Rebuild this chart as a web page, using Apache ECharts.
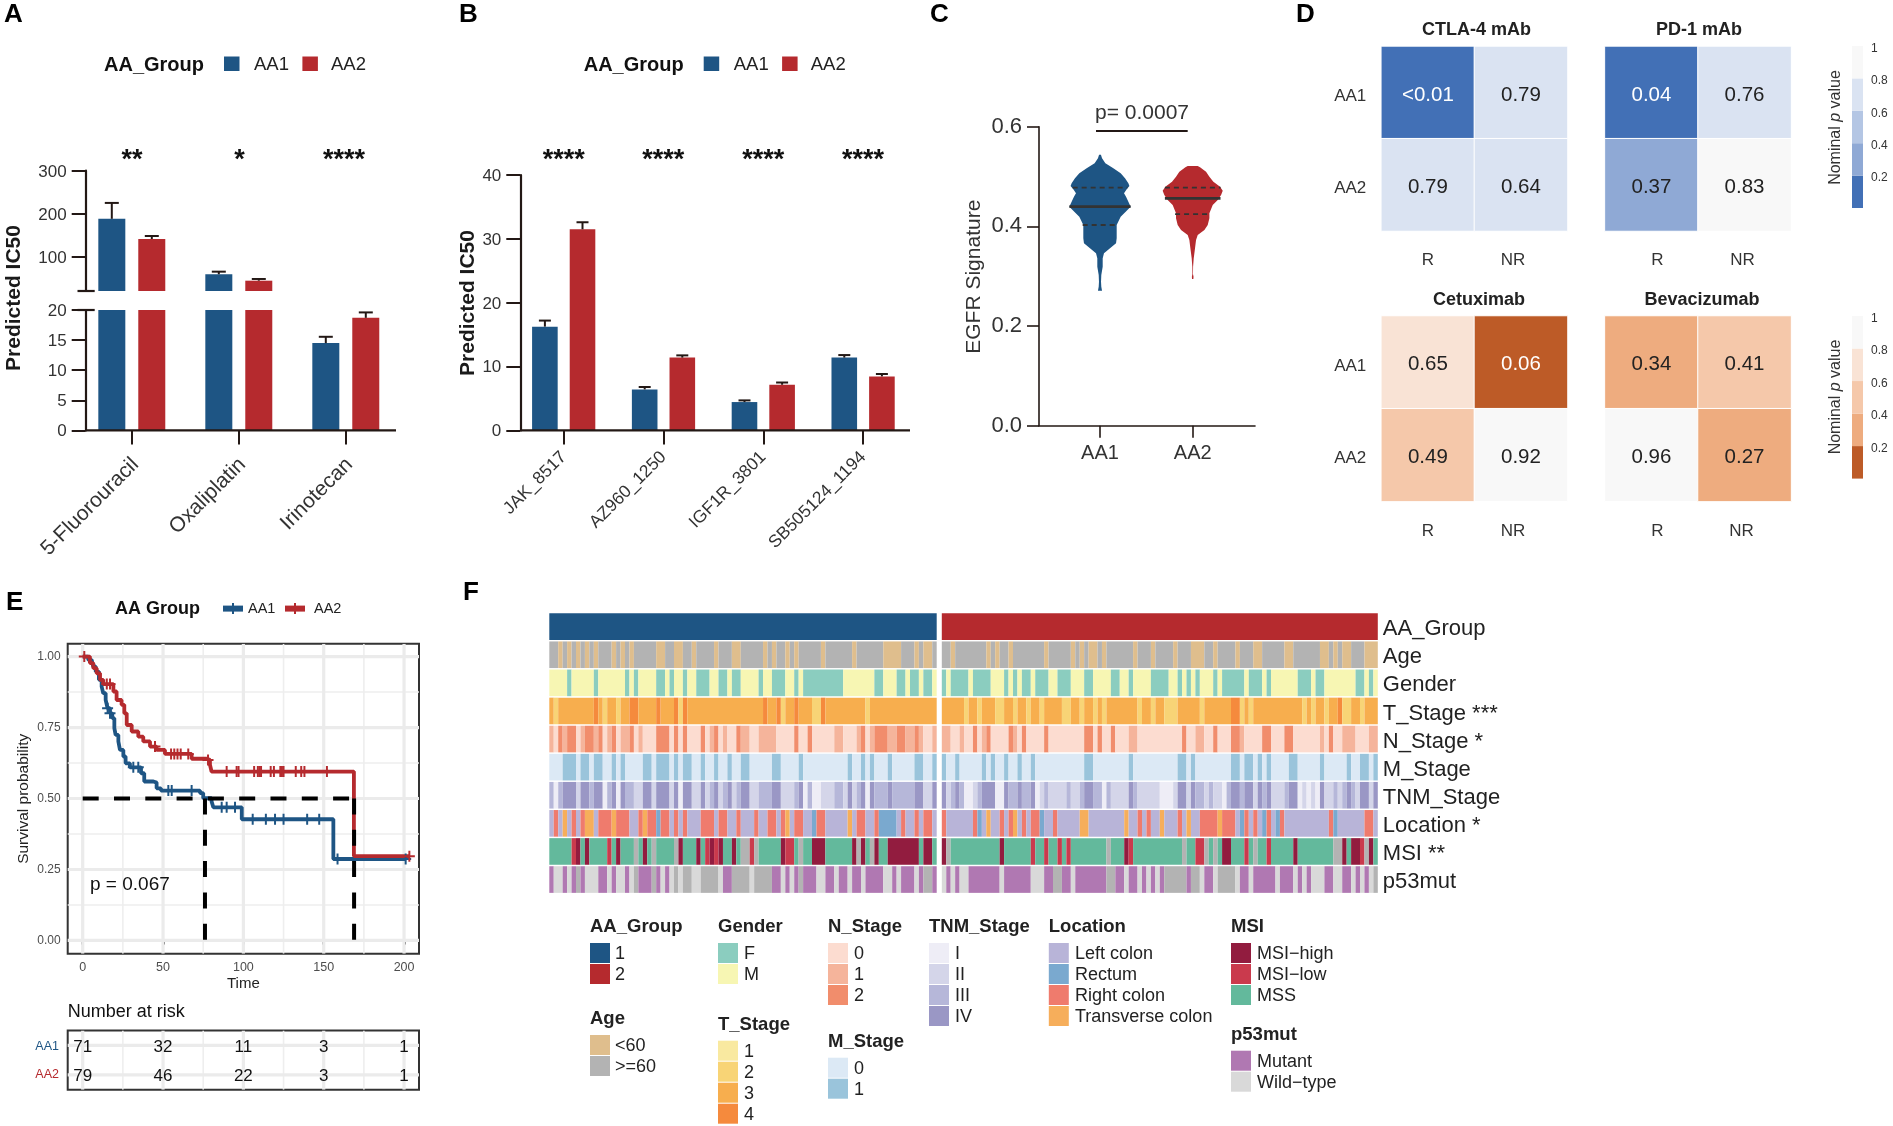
<!DOCTYPE html>
<html><head><meta charset="utf-8">
<style>html,body{margin:0;padding:0;background:#fff}#c{width:1893px;height:1126px}</style>
<script src="https://cdn.jsdelivr.net/npm/echarts@6/dist/echarts.min.js"></script>
</head><body><div id="c"></div>
<script>
// ---------- data ----------
const groupNames = ['AA1', 'AA2'];
const drugsA = ['5-Fluorouracil', 'Oxaliplatin', 'Irinotecan'];
const ic50A_AA1 = [188, 59, 14.5];
const ic50A_AA2 = [141, 44, 18.7];
const errA_AA1 = [225, 65, 15.55];
const errA_AA2 = [148, 48, 19.6];
const sigA = ['**', '*', '****'];

const drugsB = ['JAK_8517', 'AZ960_1250', 'IGF1R_3801', 'SB505124_1194'];
const ic50B_AA1 = [16.25, 6.42, 4.44, 11.4];
const ic50B_AA2 = [31.5, 11.4, 7.15, 8.46];
const errB_AA1 = [17.2, 6.8, 4.7, 11.8];
const errB_AA2 = [32.6, 11.75, 7.5, 8.83];
const sigB = ['****', '****', '****', '****'];

const violinY_AA1 = [.5439,.5366,.5265,.5165,.5065,.4964,.4864,.481,.4743,.4663,.4596,.4496,.4396,.4315,.4195,.4028,.3894,.376,.366,.356,.3459,.3359,.3191,.3024,.289,.279,.271];
const violinW_AA1 = [.01,.022,.058,.144,.223,.27,.306,.317,.288,.259,.281,.306,.331,.288,.223,.18,.18,.18,.173,.108,.043,.029,.029,.014,.011,.014,.022];
const violinY_AA2 = [.5212,.5185,.5098,.4998,.4897,.4797,.4716,.463,.4529,.4429,.4262,.4162,.4028,.3927,.3827,.3727,.356,.3359,.3191,.3044,.2991,.2944];
const violinW_AA2 = [.054,.079,.144,.18,.223,.295,.324,.306,.27,.216,.18,.18,.162,.126,.054,.036,.025,.011,.004,.003,.009,.007];
const quartiles_AA1 = [[.4776,.295],[.4396,.33],[.4027,.187]];
const quartiles_AA2 = [[.4776,.3],[.456,.3],[.4247,.19]];
const bracketC = [[.957,.5914],[1.946,.5914]];

const respCats = ['R', 'NR'];
const pCtla = [[.005,.79],[.79,.64]];
const pPd1 = [[.04,.76],[.37,.83]];
const pCetux = [[.65,.06],[.49,.92]];
const pBeva = [[.34,.41],[.96,.27]];
const blueSteps = ['#4270b6','#8fa9d5','#b4c6e4','#dae3f2','#f8f8f8'];
const orangeSteps = ['#bd5b27','#eeac7f','#f5c8aa','#f9e3d5','#f8f8f8'];

const kmAA1 = [[0,1],[3.5,.988],[5.6,.982],[6.6,.965],[8.1,.947],[10.1,.918],[11.8,.894],[12.8,.871],[14.3,.847],[15.5,.818],[17,.8],[18.4,.783],[19.7,.748],[20.5,.724],[22.2,.701],[23.2,.671],[25.3,.648],[26.7,.624],[29.4,.61],[36.3,.589],[38.3,.56],[44,.556],[46,.536],[48.7,.528],[73,.519],[75,.501],[80.2,.49],[81.3,.469],[99,.427],[156,.287],[201,.287]];
const kmAA2 = [[0,1],[4.5,.977],[6.6,.959],[8.7,.941],[10.8,.918],[12.8,.903],[19.1,.877],[21.1,.847],[24.2,.83],[25.9,.8],[27.4,.759],[30.5,.736],[34.6,.718],[37.7,.701],[41.9,.683],[46,.671],[51.2,.657],[67.8,.64],[77.1,.636],[79.2,.619],[80.2,.595],[168.8,.297],[203.3,.297]];
const censorAA1 = [[15.5,.818],[17,.8],[31.5,.61],[34.6,.61],[53.3,.528],[55.4,.528],[67.8,.528],[86.5,.469],[89.6,.469],[94.8,.469],[105.8,.427],[114,.427],[119.7,.427],[125,.427],[139.7,.427],[147.2,.427],[158.6,.287],[201,.287]];
const censorAA2 = [[1,1],[15,.903],[17,.903],[45,.683],[55,.657],[57,.657],[59,.657],[61,.657],[65.7,.657],[78,.636],[89.6,.595],[95.8,.595],[97,.595],[106.7,.595],[109,.595],[110,.595],[111,.595],[117,.595],[119,.595],[123,.595],[124,.595],[125,.595],[132.6,.595],[136,.595],[138,.595],[152,.595],[203.3,.297]];
const medianLines = [[[0,.5],[168.9,.5]],[[76.1,.5],[76.1,0]],[[168.9,.5],[168.9,0]]];
const timeTicks = [0,50,100,150,200];
const timeMinor = [25,75,125,175];
const survTicks = [0,.25,.5,.75,1];
const survMinor = [.125,.375,.625,.875];
const riskAA1 = [71,32,11,3,1];
const riskAA2 = [79,46,22,3,1];

const N1 = 87, N2 = 98;
function mark(n, base, m){const a=new Array(n).fill(base);for(const k in m)m[k].forEach(i=>a[i]=+k);return a;}
function seq(n, s){const a=s.replace(/\s/g,'').split('').map(Number).slice(0,n);while(a.length<n)a.push(a[a.length-1]);return a;}
const rowNames = ['AA_Group','Age','Gender','T_Stage ***','N_Stage *','M_Stage','TNM_Stage','Location *','MSI **','p53mut'];
const ageAA1 = mark(N1,1,{0:[2,4,6,8,10,14,16,18,24,25,28,29,32,37,41,42,48,50,53,55,61,68,75,76,77,78,82,84,85]});
const ageAA2 = mark(N2,1,{0:[2,10,12,15,23,29,31,33,34,36,43,47,52,56,57,58,61,66,70,71,77,78,85,86,88,90,91,95,96,97]});
const genderAA1 = mark(N1,1,{0:[4,10,17,19,24,25,27,30,33,34,35,38,39,41,42,47,50,51,52,55,57,58,59,60,61,62,63,64,65,73,74,78,79,81,82,84,85]});
const genderAA2 = mark(N2,1,{0:[0,2,3,4,5,7,8,9,10,14,16,18,19,21,22,23,26,27,28,32,33,38,39,42,47,48,49,50,53,55,57,61,63,64,65,66,67,69,70,71,73,80,81,82,84,85,93,94,96]});
const tAA1 = mark(N1,2,{1:[1,12,15,29,52,59,60,71],3:[10,18,19,24,28,30,48,51,55,61]});
const tAA2 = mark(N2,2,{1:[5,8,12,13,16,19,22,27,28,31,34,36,44,47,50,51,52,58,67,69,81,83,86,90,91,94],3:[65,66,89]});
const nAA1 = seq(N1,'1 0 2 1 22 0 1 22 1 2 0 1 2 0 11 2 0 1 000 222 0 2 0 2 000 2 0 1 2 0 1 00 2 11 00 1111 0000 2 00 2 00000 11 000 1 2 0 1 222 11 22 11 2 1 00 1');
const nAA2 = mark(N2,0,{1:[0,1,4,9,16,42,43,57,58,67,85,90,91,92,96,97],2:[7,10,15,18,23,32,33,35,38,54,61,65,66,72,73,77,78,87]});
const mAA1 = mark(N1,0,{1:[3,4,5,7,8,10,11,14,16,21,22,24,25,26,28,30,31,34,37,40,43,44,50,51,56,67,70,72,76,82,83,86]});
const mAA2 = mark(N2,0,{1:[0,3,9,11,14,17,20,32,33,42,53,54,56,65,66,68,69,71,73,78,79,85,91,94,95,97]});
const tnmAA1 = seq(N1,'3 1 3 444 2 44 3 44 1 3 4 1 4 33 22 44 2 444 2 4 1 44 22 4 2 3 4 2 3 4 2 3 44 22 333 44 2 22 3 4 1 3 11 222 33 2 4 23 4 1 4 333 4 33333 44 22 4').map(v=>v-1);
const tnmAA2 = seq(N2,'4234311234 4411433433 4123222232 2344331322 2243222221 1124424332 3221344344 2434222344 1212142232 34324424').map(v=>v-1);
const locAA1 = seq(N1,'1 3 1 4 1 3 1 3 44 1 333 4 333 11 3 4 33 2 33 1 3 1 3 111 333 1 33 11 3 111 3 11 33 1 3 4 1 33 11 2 33 11111 4 1 33 11 3 2222 1 3 11 3 1 33 1').map(v=>v-1);
const locAA2 = mark(N2,0,{1:[8,22,67,72,75,88],2:[0,7,13,15,18,20,21,25,44,46,53,58,59,60,61,63,64,65,68,70,73,76,87,95,96],3:[10,16,31,32,41,49,55,62]});
const msiAA1 = seq(N1,'33333 2 1 3 1 3333 2 3 1 333 0 3 1 3 0 3333 0 1 333 1 3 2 1 2 1 33 1 3 00 2 0 33333 1 22 3 0 33 111 333333 1 0 1 3 0 1 33 1111111 3 11 3');
const msiAA2 = mark(N2,3,{1:[0,13,41,63,64,79,90,92,93,96],2:[20,23,26,28,42,57,58,68,73,94],0:[1,37,54,59,61,70,88,89,95]});
const p53AA1 = seq(N1,'1 22 1 2 1 0 1 222 11 2 1 22 1 2 0 111 0 1 2 1 2 0 2 00 22 0000 2 11 0000 2 0000 11 2 1 2 1 0 111 22 11 2 11 2 11 2 1111 22 1 2 111 2 1 00 1');
const p53AA2 = seq(N2,'2 1 2 1 22 1111111 2 111111 222 11 00 11 2 1111111 00 11 2 11 2 1 2 1 2 1 00000 1 00 2 11 2 0000 2 11 2 11111 2 111 2 1 2 1 222 11 22 11 2 1 2 1 2 0');
const groupAA1 = new Array(N1).fill(0), groupAA2 = new Array(N2).fill(1);

const colGroup = ['#1e5584','#b52a2e'];
const colAge = ['#dfbe8d','#b3b3b3'];
const colGender = ['#8bcdbf','#f7f6b3'];
const colT = ['#f9e9a0','#f8d476','#f7ae4e','#f58a3d'];
const colN = ['#fcdcd0','#f5b49b','#f18d6c'];
const colM = ['#dce9f5','#9ac4db'];
const colTnm = ['#eeedf6','#d4d5e9','#b6b7d9','#9a97c5'];
const colLoc = ['#b8b4d8','#7aa9cf','#ef7b6d','#f6ae5b'];
const colMsi = ['#b3b3b3','#921c3f','#ca3a4d','#63b99c'];
const colP53 = ['#b3b3b3','#b078b2','#d9d9d9'];
const rowColors = [colGroup,colAge,colGender,colT,colN,colM,colTnm,colLoc,colMsi,colP53];

// ---------- helpers ----------
const FF = '"Liberation Sans",Arial,sans-serif';
const INK = '#231815', TXT = '#222';
const BLUE = colGroup[0], RED = colGroup[1];
const grid=[],xAxis=[],yAxis=[],series=[],graphic=[],visualMap=[];
function T(x,y,text,o={}){
  const size=o.size||16, weight=o.weight||'normal';
  const s={text,x:0,y:0,fontFamily:FF,fontSize:size,fontWeight:weight,fill:o.color||TXT,
    align:o.align||'left',verticalAlign:'middle',textAlign:o.align||'left',textVerticalAlign:'middle'};
  if(o.rich)s.rich=o.rich;
  graphic.push({type:'text',x,y,rotation:o.rot||0,silent:true,z:20,style:s});
}
function L(x1,y1,x2,y2,w,color){graphic.push({type:'line',silent:true,z:19,shape:{x1,y1,x2,y2},style:{stroke:color||INK,lineWidth:w||2}});}
function R(x,y,w,h,fill){graphic.push({type:'rect',silent:true,z:19,shape:{x,y,width:w,height:h},style:{fill}});}
function addGrid(left,top,width,height,extra){grid.push(Object.assign({left,top,width,height,containLabel:false},extra||{}));return grid.length-1;}
function panelLetter(x,y,t){T(x,y,t,{size:26,weight:'bold',color:'#000'});}
// axis label text pushed down by half of pad through a rich-text style
function padded(size,color,pad,fmt,left){
  return {formatter:v=>{const t=fmt?fmt(v):v;return t===''?'':`{s|${t}}`;},
    rich:{s:{fontSize:size,color,fontFamily:FF,padding:[pad,0,0,left||0]}}};
}
function groupLegend(dx){
  T(104+dx,65,'AA_Group',{size:20,weight:'bold',color:'#111'});
  R(224+dx,56.5,15.5,14.5,BLUE);T(254+dx,65,'AA1',{size:18.5});
  R(302.4+dx,56.5,15.5,14.5,RED);T(331+dx,65,'AA2',{size:18.5});
}
function errSeries(g,vals,tops,lo,hi,off,cap){
  const data=vals.map((v,i)=>[i,v,tops[i]]).filter(d=>d[1]>=lo&&d[1]<=hi);
  series.push({type:'custom',xAxisIndex:g,yAxisIndex:g,encode:{x:0,y:[1,2]},data,silent:true,z:3,
    renderItem(p,api){
      const a=api.coord([api.value(0),api.value(1)]),b=api.coord([api.value(0),api.value(2)]);
      const x=a[0]+off,st={stroke:INK,lineWidth:2};
      return {type:'group',children:[
        {type:'line',shape:{x1:x,y1:a[1],x2:x,y2:b[1]},style:st},
        {type:'line',shape:{x1:x-cap/2,y1:b[1],x2:x+cap/2,y2:b[1]},style:st}]};
    }});
}
function barPanel(left,width,top,height,cats,v1,v2,yOpt,offset,bw,gapPct,showX,labelSize,labelMargin,perp){
  const g=addGrid(left,top,width,height);
  xAxis.push({type:'category',gridIndex:g,data:cats,show:showX,axisLine:{show:false},
    axisTick:{show:showX,alignWithLabel:true,length:14,lineStyle:{color:INK,width:2}},
    axisLabel:Object.assign({show:showX,rotate:45,margin:labelMargin,interval:0},padded(labelSize,'#333',perp||0))});
  yAxis.push(Object.assign({type:'value',gridIndex:g,offset,splitLine:{show:false},
    axisLine:{show:true,onZero:false,lineStyle:{color:INK,width:2.2}},
    axisTick:{show:true,length:14,lineStyle:{color:INK,width:2}}},yOpt));
  series.push({type:'bar',xAxisIndex:g,yAxisIndex:g,data:v1,barWidth:bw,barGap:gapPct,itemStyle:{color:BLUE},silent:true,name:groupNames[0]});
  series.push({type:'bar',xAxisIndex:g,yAxisIndex:g,data:v2,barWidth:bw,barGap:gapPct,itemStyle:{color:RED},silent:true,name:groupNames[1]});
  return g;
}
const yLabel=(m)=>Object.assign({margin:m},padded(17,'#333',2.5));

// ---------- panel A ----------
panelLetter(4,15,'A');groupLegend(0);
const aUp=barPanel(78.3,321,170.7,120.3,drugsA,ic50A_AA1,ic50A_AA2,
  {min:20,max:300,axisLabel:Object.assign(yLabel(19),{customValues:[100,200,300]}),axisTick:{show:true,length:14,customValues:[100,200,300],lineStyle:{color:INK,width:2}}},-7.4,27,'48%',false,21,27.5,10);
errSeries(aUp,ic50A_AA1,errA_AA1,20,1e9,-20,14);errSeries(aUp,ic50A_AA2,errA_AA2,20,1e9,20,14);
const aLo=barPanel(78.3,321,310,120.4,drugsA,ic50A_AA1,ic50A_AA2,
  {min:0,max:20,interval:5,axisLabel:yLabel(19)},-7.4,27,'48%',true,21,27.5,10);
errSeries(aLo,ic50A_AA1,errA_AA1,0,20,-20,14);errSeries(aLo,ic50A_AA2,errA_AA2,0,20,20,14);
L(85.7,430.4,396,430.4,2.2);
L(77.5,291,94.7,291,2.2);L(77.5,310,94.7,310,2.2);
T(14,298,'Predicted IC50',{size:21,weight:'bold',align:'center',rot:Math.PI/2,color:'#1a1a1a'});
[132,239.6,344].forEach((x,i)=>T(x,161,sigA[i],{size:27,weight:'bold',align:'center',color:'#111'}));

// ---------- panel B ----------
panelLetter(459,15,'B');groupLegend(479.7);
const bG=barPanel(513.8,399.2,175,255.4,drugsB,ic50B_AA1,ic50B_AA2,
  {min:0,max:40,interval:10,axisLabel:yLabel(19)},-6.5,25.6,'47%',true,17.5,24,0);
errSeries(bG,ic50B_AA1,errB_AA1,0,40,-18.8,12);errSeries(bG,ic50B_AA2,errB_AA2,0,40,18.8,12);
L(520.3,430.4,910,430.4,2.2);
T(468.5,303,'Predicted IC50',{size:21,weight:'bold',align:'center',rot:Math.PI/2,color:'#1a1a1a'});
[563.7,663.3,763.3,863].forEach((x,i)=>T(x,161,sigB[i],{size:27,weight:'bold',align:'center',color:'#111'}));

// ---------- panel C ----------
panelLetter(930,15,'C');
const cG=addGrid(1039,126.7,216,299);
xAxis.push({type:'value',gridIndex:cG,min:.342,max:2.672,splitLine:{show:false},
  axisLine:{show:true,onZero:false,lineStyle:{color:INK,width:1.6}},
  axisTick:{show:true,length:12,customValues:[1,2],lineStyle:{color:INK,width:1.6}},
  axisLabel:{customValues:[1,2],fontSize:20,color:'#333',margin:18,formatter:v=>groupNames[Math.round(v)-1]}});
yAxis.push({type:'value',gridIndex:cG,min:0,max:.6,interval:.2,splitLine:{show:false},
  axisLine:{show:true,onZero:false,lineStyle:{color:INK,width:1.6}},
  axisTick:{show:true,length:12,lineStyle:{color:INK,width:1.6}},
  axisLabel:{fontSize:22,color:'#333',margin:17,formatter:v=>v.toFixed(1)}});
function violin(center,ys,ws,qs,color){
  series.push({type:'custom',xAxisIndex:cG,yAxisIndex:cG,encode:{x:0,y:1},data:[[center,qs[1][0]]],silent:true,
    renderItem(p,api){
      const left=ys.map((y,i)=>api.coord([center-ws[i],y]));
      const right=ys.map((y,i)=>api.coord([center+ws[i],y])).reverse();
      const kids=[{type:'polygon',shape:{points:left.concat(right)},style:{fill:color}}];
      qs.forEach((q,i)=>{
        const a=api.coord([center-q[1],q[0]]),b=api.coord([center+q[1],q[0]]);
        kids.push({type:'line',shape:{x1:a[0],y1:a[1],x2:b[0],y2:b[1]},
          style:{stroke:'#333',lineWidth:i===1?2.8:1.8,lineDash:i===1?null:[5,4]}});
      });
      return {type:'group',children:kids};
    }});
}
violin(1,violinY_AA1,violinW_AA1,quartiles_AA1,BLUE);
violin(2,violinY_AA2,violinW_AA2,quartiles_AA2,RED);
series.push({type:'line',xAxisIndex:cG,yAxisIndex:cG,data:bracketC,showSymbol:false,silent:true,lineStyle:{color:INK,width:2}});
T(1142,113.5,'p= 0.0007',{size:21,align:'center',color:'#333'});
T(974,276.7,'EGFR Signature',{size:21,align:'center',rot:Math.PI/2,color:'#333'});

// ---------- panel D ----------
panelLetter(1296,15,'D');
function heat(title,titleX,titleY,left,top,w,h,vals,showRows,vmIdx,shift){
  const g=addGrid(left,top,w,h);
  xAxis.push({type:'category',gridIndex:g,data:respCats,axisLine:{show:false},axisTick:{show:false},splitArea:{show:false},
    axisLabel:{margin:21,formatter:v=>`{${v}|${v}}`,rich:{
      R:{fontSize:17,color:'#333',fontFamily:FF,padding:shift[0]>0?[0,0,0,2*shift[0]]:[0,-2*shift[0],0,0]},
      NR:{fontSize:17,color:'#333',fontFamily:FF,padding:shift[1]>0?[0,0,0,2*shift[1]]:[0,-2*shift[1],0,0]}}}});
  yAxis.push({type:'category',gridIndex:g,data:groupNames,inverse:true,axisLine:{show:false},axisTick:{show:false},splitArea:{show:false},
    axisLabel:Object.assign({show:showRows,margin:15},padded(17,'#333',7))});
  const data=[];
  vals.forEach((row,r)=>row.forEach((v,c)=>data.push({value:[c,r,v],label:{color:v<.2?'#fff':'#222'}})));
  series.push({type:'heatmap',xAxisIndex:g,yAxisIndex:g,data,silent:true,
    itemStyle:{borderColor:'#fff',borderWidth:1},
    label:{show:true,fontSize:20.5,fontFamily:FF,offset:[0,2.4],formatter:p=>p.value[2]<.01?'<0.01':p.value[2].toFixed(2)}});
  visualMap[vmIdx].seriesIndex.push(series.length-1);
  T(titleX,titleY,title,{size:18,weight:'bold',align:'center',color:'#222'});
}
function stepPieces(cols){return cols.map((c,i)=>({min:i*.2,max:(i+1)*.2,color:c}));}
visualMap.push({type:'piecewise',show:false,dimension:2,seriesIndex:[],pieces:stepPieces(blueSteps)});
visualMap.push({type:'piecewise',show:false,dimension:2,seriesIndex:[],pieces:stepPieces(orangeSteps)});
heat('CTLA-4 mAb',1476.6,30,1381.3,46.4,186.2,184.6,pCtla,true,0,[0,-8]);
heat('PD-1 mAb',1699,30,1604.9,46.4,186.2,184.6,pPd1,false,0,[6,-2]);
heat('Cetuximab',1479,300,1381.3,316,186.2,185.4,pCetux,true,1,[0,-8]);
heat('Bevacizumab',1702,300,1604.9,316,186.2,185.4,pBeva,false,1,[6,-3]);
function colorbar(top,h,cols,titleY){
  const g=addGrid(1852,top,11,h);
  xAxis.push({type:'value',gridIndex:g,min:0,max:1,show:false});
  yAxis.push({type:'value',gridIndex:g,min:0,max:1,interval:.2,position:'right',splitLine:{show:false},axisLine:{show:false},axisTick:{show:false},
    axisLabel:Object.assign({margin:8},padded(12,'#333',5,v=>v===0?'':(v===1?'1':v.toFixed(1))))});
  series.push({type:'custom',xAxisIndex:g,yAxisIndex:g,encode:{y:1},silent:true,data:cols.map((c,i)=>[0,i*.2,(i+1)*.2]),
    renderItem(p,api){
      const a=api.coord([0,api.value(1)]),b=api.coord([1,api.value(2)]);
      return {type:'rect',shape:{x:a[0],y:b[1],width:b[0]-a[0],height:a[1]-b[1]},style:{fill:cols[p.dataIndex]}};
    }});
  T(1836,titleY,'Nominal {i|p} value',{size:16,align:'center',rot:Math.PI/2,color:'#333',
    rich:{i:{fontStyle:'italic',fontSize:16,fontFamily:FF,fill:'#333',color:'#333'}}});
}
colorbar(46,162,blueSteps,127.5);
colorbar(316,162.6,orangeSteps,397);

// ---------- panel E ----------
panelLetter(6,603,'E');
T(115,609,'AA Group',{size:18,weight:'bold',color:'#111'});
L(223,608.6,243,608.6,6,BLUE);L(233,603,233,614,2,BLUE);T(248,608.6,'AA1',{size:14.5});
L(285,608.6,305,608.6,6,RED);L(295,603,295,614,2,RED);T(314,608.6,'AA2',{size:14.5});
const eX={min:-9.33,max:209.3};
const eG=addGrid(67.7,643.8,351.3,310,{show:true,borderColor:'#333',borderWidth:2,backgroundColor:'transparent'});
xAxis.push(Object.assign({type:'value',gridIndex:eG,splitLine:{show:false},axisLine:{show:false},
  axisTick:{show:true,length:4,customValues:timeTicks,lineStyle:{color:'#111',width:3}},
  axisLabel:{customValues:timeTicks,fontSize:12.5,color:'#4d4d4d',margin:7},
  name:'Time',nameLocation:'middle',nameGap:23,nameTextStyle:{fontSize:15,color:'#222'}},eX));
yAxis.push({type:'value',gridIndex:eG,min:-.047,max:1.045,splitLine:{show:false},axisLine:{show:false},
  axisTick:{show:true,length:4,customValues:survTicks,lineStyle:{color:'#111',width:3}},
  axisLabel:{customValues:survTicks,fontSize:12,color:'#4d4d4d',margin:7,formatter:v=>v.toFixed(2)},
  name:'Survival probability',nameLocation:'middle',nameGap:36,nameTextStyle:{fontSize:15.5,color:'#222'}});
function gridlines(g,xs,ys,wd,color,yr){
  const data=xs.map(v=>[v,0]).concat(ys.map(v=>[v,1]));
  series.push({type:'custom',xAxisIndex:g,yAxisIndex:g,silent:true,z:1,encode:{x:0},clip:true,data,
    renderItem(p,api){
      const v=api.value(0),horiz=api.value(1)===1;
      const a=horiz?api.coord([eX.min,v]):api.coord([v,yr[0]]),b=horiz?api.coord([eX.max,v]):api.coord([v,yr[1]]);
      return {type:'line',shape:{x1:a[0],y1:a[1],x2:b[0],y2:b[1]},style:{stroke:color,lineWidth:wd}};
    }});
}
gridlines(eG,timeMinor,survMinor,1.6,'#eeeeee',[-.047,1.045]);
gridlines(eG,timeTicks,survTicks,3.2,'#ebebeb',[-.047,1.045]);
const plus='path://M4.1,0H5.9V4.1H10V5.9H5.9V10H4.1V5.9H0V4.1H4.1Z';
[[kmAA1,censorAA1,BLUE],[kmAA2,censorAA2,RED]].forEach(([km,cen,c])=>{
  series.push({type:'line',xAxisIndex:eG,yAxisIndex:eG,data:km,step:'end',showSymbol:false,silent:true,z:3,lineStyle:{color:c,width:3.8}});
  series.push({type:'scatter',xAxisIndex:eG,yAxisIndex:eG,data:cen,symbol:plus,symbolSize:11,silent:true,z:4,itemStyle:{color:c,opacity:1}});
});
medianLines.forEach(d=>series.push({type:'line',xAxisIndex:eG,yAxisIndex:eG,data:d,showSymbol:false,silent:true,z:5,
  lineStyle:{color:'#000',width:4,type:[16,15.3]}}));
T(90,885,'p = 0.067',{size:19,color:'#111'});
T(67.7,1012,'Number at risk',{size:18,color:'#111'});
const tG=addGrid(67.7,1030.5,351.3,59.2,{show:true,borderColor:'#333',borderWidth:2,backgroundColor:'transparent'});
xAxis.push(Object.assign({type:'value',gridIndex:tG,show:false,splitLine:{show:false}},eX));
yAxis.push({type:'value',gridIndex:tG,min:0,max:2,interval:1,splitLine:{show:false},axisLine:{show:false},axisTick:{show:false},
  axisLabel:{show:false}});
gridlines(tG,timeMinor,[],1.6,'#eeeeee',[0,2]);
gridlines(tG,timeTicks,[.5,1.5],3.2,'#ebebeb',[0,2]);
[[riskAA1,1.5,BLUE,groupNames[0]],[riskAA2,.5,RED,groupNames[1]]].forEach(([vals,y,c,nm])=>{
  series.push({type:'custom',xAxisIndex:tG,yAxisIndex:tG,silent:true,z:5,encode:{x:0,y:1},
    data:vals.map((n,i)=>[timeTicks[i],y,n]),
    renderItem(p,api){const a=api.coord([api.value(0),api.value(1)]);
      return {type:'text',style:{x:a[0],y:a[1]+1.6,text:String(api.value(2)),fontSize:17,fontFamily:FF,fill:'#111',align:'center',verticalAlign:'middle',textAlign:'center',textVerticalAlign:'middle'}};}});
  T(59,y>1?1046.5:1075,nm,{size:12.5,align:'right',color:c});
});

// ---------- panel F ----------
panelLetter(463,593,'F');
const rowsAA1=[groupAA1,ageAA1,genderAA1,tAA1,nAA1,mAA1,tnmAA1,locAA1,msiAA1,p53AA1];
const rowsAA2=[groupAA2,ageAA2,genderAA2,tAA2,nAA2,mAA2,tnmAA2,locAA2,msiAA2,p53AA2];
function strip(left,width,rows,n,labels){
  const g=addGrid(left,612.6,width,281);
  xAxis.push({type:'category',gridIndex:g,show:false,data:Array.from({length:n},(_,i)=>i)});
  yAxis.push({type:'category',gridIndex:g,data:rowNames,inverse:true,position:'right',axisLine:{show:false},axisTick:{show:false},
    axisLabel:Object.assign({show:labels,margin:5,interval:0,align:'left'},padded(22,'#222',5))});
  // adjacent patients with the same class are drawn as one block
  const data=[];
  rows.forEach((row,r)=>{let s=0;for(let i=1;i<=row.length;i++){if(i===row.length||row[i]!==row[s]){data.push([s,i-1,r,row[s]]);s=i;}}});
  series.push({type:'custom',xAxisIndex:g,yAxisIndex:g,silent:true,encode:{x:[0,1],y:2},data,
    renderItem(p,api){
      const a=api.coord([api.value(0),api.value(2)]),b=api.coord([api.value(1),api.value(2)]),s=api.size([1,1]),h=s[1]*.948;
      return {type:'rect',shape:{x:a[0]-s[0]/2,y:a[1]-h/2,width:b[0]-a[0]+s[0],height:h},style:{fill:rowColors[api.value(2)][api.value(3)]}};
    }});
}
strip(549.3,387.4,rowsAA1,N1,false);
strip(941.8,436,rowsAA2,N2,true);
const legends=[
 {x:590,tx:615,ty:927,sw:943,title:'AA_Group',labels:['1','2'],cols:colGroup},
 {x:590,tx:615,ty:1019,sw:1035,title:'Age',labels:['<60','>=60'],cols:colAge},
 {x:718,tx:744,ty:927,sw:943,title:'Gender',labels:['F','M'],cols:colGender},
 {x:718,tx:744,ty:1025,sw:1040.7,title:'T_Stage',labels:['1','2','3','4'],cols:colT},
 {x:828,tx:854,ty:927,sw:943,title:'N_Stage',labels:['0','1','2'],cols:colN},
 {x:828,tx:854,ty:1041.7,sw:1057.7,title:'M_Stage',labels:['0','1'],cols:colM},
 {x:929,tx:955,ty:927,sw:943,title:'TNM_Stage',labels:['I','II','III','IV'],cols:colTnm},
 {x:1048.8,tx:1075,ty:927,sw:943,title:'Location',labels:['Left colon','Rectum','Right colon','Transverse colon'],cols:colLoc},
 {x:1231,tx:1257,ty:927,sw:943,title:'MSI',labels:['MSI\u2212high','MSI\u2212low','MSS'],cols:colMsi.slice(1)},
 {x:1231,tx:1257,ty:1035,sw:1050.7,title:'p53mut',labels:['Mutant','Wild\u2212type'],cols:colP53.slice(1)}
];
legends.forEach(l=>{
  T(l.x,l.ty,l.title,{size:18.5,weight:'bold',color:'#222'});
  l.labels.forEach((t,i)=>{R(l.x,l.sw+i*21,20,20,l.cols[i]);T(l.tx,l.sw+i*21+11,t,{size:18,color:'#222'});});
});

const chart=echarts.init(document.getElementById('c'),null,{renderer:'canvas',width:1893,height:1126});
chart.setOption({animation:false,backgroundColor:'#fff',textStyle:{fontFamily:FF},legend:{show:false},tooltip:{show:false},
  grid,xAxis,yAxis,series,visualMap,graphic:{elements:graphic}});
</script></body></html>
